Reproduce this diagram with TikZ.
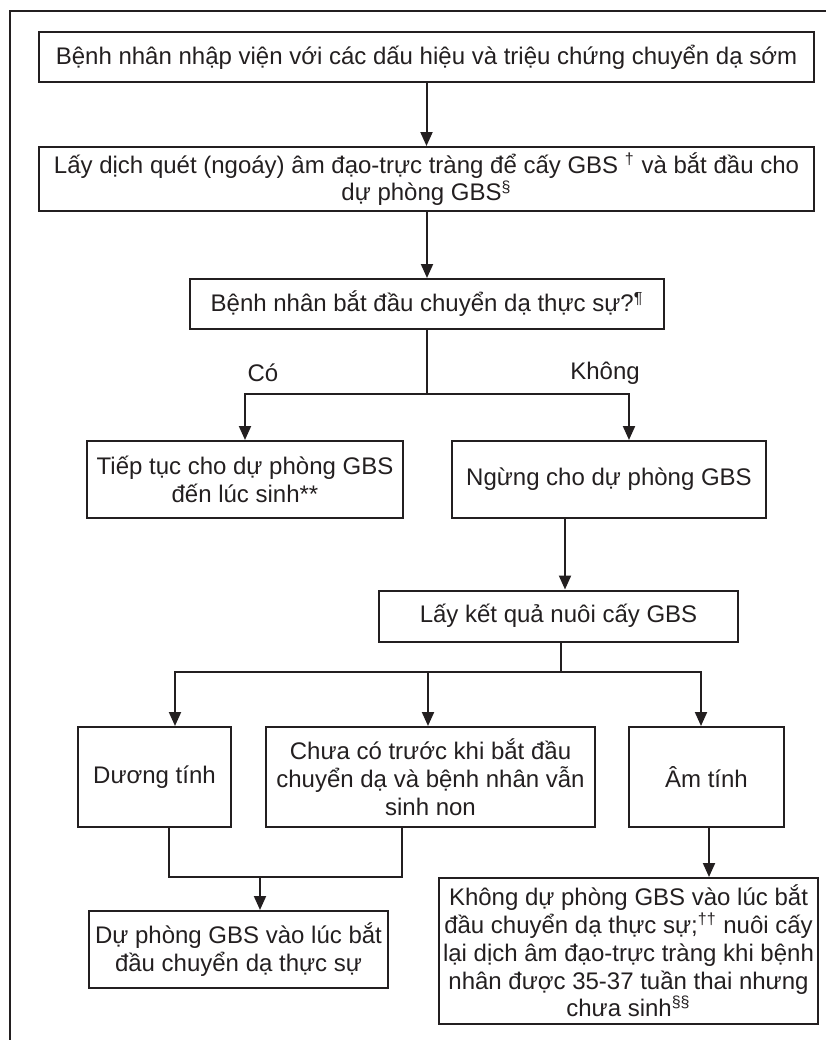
\documentclass[tikz,border=0pt]{standalone}
\usepackage{fontspec}
\setmainfont{Liberation Sans}
\usetikzlibrary{arrows.meta}
\definecolor{ink}{RGB}{35,31,32}
\tikzset{x=0.5pt, y=-0.5pt,
    every node/.append style={font=\fontsize{12}{13.85}\selectfont, text=ink},
    box/.style={draw=ink, line width=1pt, align=center, inner sep=0pt},
    arr/.style={draw=ink, line width=1pt, -{Triangle[length=7pt, width=6pt]}},
    wire/.style={draw=ink, line width=1pt}}

\begin{document}
\begin{tikzpicture}
    \useasboundingbox (0,0) rectangle (826,1040);
    % frame
    \draw[wire] (10,1040) -- (10,11) -- (826,11);

    \node[box, minimum width=387.5pt, minimum height=25pt] (b1) at (426.5,57)
        {Bệnh nhân nhập viện với các dấu hiệu và triệu chứng chuyển dạ sớm};
    \node[box, minimum width=387.5pt, minimum height=32pt] (b2) at (426.5,179)
        {Lấy dịch quét (ngoáy) âm đạo-trực tràng để cấy GBS \textsuperscript{†} và bắt đầu cho\\
         dự phòng GBS\textsuperscript{§}};
    \node[box, minimum width=237pt, minimum height=25pt] (b3) at (427,304)
        {Bệnh nhân bắt đầu chuyển dạ thực sự?\textsuperscript{¶}};
    \node (yes) at (263,373) {Có};
    \node (no) at (605,373) {Không};
    \node[box, minimum width=158pt, minimum height=38.5pt] (b4) at (245,479.5)
        {Tiếp tục cho dự phòng GBS\\ đến lúc sinh**};
    \node[box, minimum width=157pt, minimum height=38.5pt] (b5) at (609,479.5)
        {Ngừng cho dự phòng GBS};
    \node[box, minimum width=179.5pt, minimum height=25.5pt] (b6) at (558.5,616)
        {Lấy kết quả nuôi cấy GBS};
    \node[box, minimum width=76.5pt, minimum height=50pt] (b7) at (154.5,777)
        {Dương tính};
    \node[box, minimum width=164.5pt, minimum height=50pt] (b8) at (430.5,777)
        {Chưa có trước khi bắt đầu\\ chuyển dạ và bệnh nhân vẫn\\ sinh non};
    \node[box, minimum width=77.5pt, minimum height=50pt] (b9) at (706.5,777)
        {Âm tính};
    \node[box, minimum width=149.5pt, minimum height=38.5pt] (b10) at (238.5,949.5)
        {Dự phòng GBS vào lúc bắt\\ đầu chuyển dạ thực sự};
    \node[box, minimum width=189.5pt, minimum height=73pt] (b11) at (628.5,951)
        {Không dự phòng GBS vào lúc bắt\\
         đầu chuyển dạ thực sự;\textsuperscript{††} nuôi cấy\\
         lại dịch âm đạo-trực tràng khi bệnh\\
         nhân được 35-37 tuần thai nhưng\\
         chưa sinh\textsuperscript{§§}};

    \coordinate (j1) at (427,394);
    \coordinate (j2) at (561,672);
    \coordinate (j3) at (260,877);

    \draw[arr] (b1) -- (b2);
    \draw[arr] (b3.north |- b2.south) -- (b3.north);
    \draw[wire] (b3) -- (j1);
    \draw[arr] (j1) -| (b4.north);
    \draw[arr] (j1) -| ([xshift=10pt]b5.north);
    \draw[arr] ([xshift=-22pt]b5.south) -- ([xshift=3.25pt]b6.north);
    \draw[wire] ([xshift=1.25pt]b6.south) -- (j2);
    \draw[arr] (j2) -| ([xshift=10.25pt]b7.north);
    \draw[arr] (j2) -| ([xshift=-2.75pt]b9.north);
    \draw[arr] ([xshift=-1.25pt]b8.north |- j2) -- ([xshift=-1.25pt]b8.north);
    \draw[wire] ([xshift=7.25pt]b7.south) |- ([xshift=-14.25pt]b8.south |- j3)
        -- ([xshift=-14.25pt]b8.south);
    \draw[arr] (j3) -- (j3 |- b10.north);
    \draw[arr] ([xshift=1.25pt]b9.south) -- ([xshift=1.25pt]b9.south |- b11.north);
\end{tikzpicture}
\end{document}
